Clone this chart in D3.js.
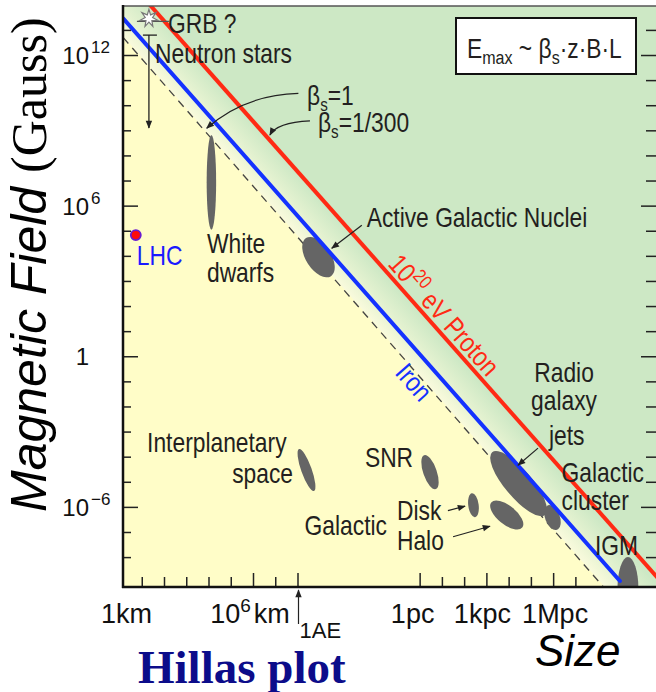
<!DOCTYPE html>
<html>
<head>
<meta charset="utf-8">
<script src="https://cdn.jsdelivr.net/npm/d3@7"></script>
<style>
  body { margin: 0; background: #fff; }
  svg { display: block; }
  .ann { font-family: "Liberation Sans Narrow", "Arial Narrow", "Liberation Sans", sans-serif; font-size: 27px; fill: #231f20; }
  .tick-lbl { font-family: "Liberation Sans", Arial, sans-serif; fill: #111; }
</style>
</head>
<body>
<svg id="chart" width="656" height="692"></svg>
<script>
// Hillas plot: magnetic field (gauss) against size (km) of candidate accelerators.

// Acceleration limits as straight lines in log-log space, [size km, field G]
const betaOneLine = [[1.45, 5.0e12], [5.6e21, 6.5e-10]];   // proton, beta_s = 1 (dashed)
const ironLine    = [[1.45, 2.9e13], [3.1e22, 1.12e-9]];   // iron, 1e20 eV
const protonLine  = [[10, 2.3e14], [1e25, 2.3e-10]];       // proton, 1e20 eV

// Source classes: major axis ends [size km, field G] and minor width in decades
const sourceNames  = ["White dwarfs", "Active Galactic Nuclei", "Interplanetary space", "SNR", "Disk", "Halo", "Radio galaxy jets", "Galactic cluster", "IGM"];
const sourceFrom   = [[1.35e4, 6.5e8], [2.4e8, 5.1e4], [1.17e8, 2.0e-4], [4.9e13, 1.15e-4], [6.9e15, 3.5e-6], [5.1e16, 1.5e-6], [5.6e16, 1.5e-4], [1.8e19, 1.15e-6], [7.1e22, 1.0e-8]];
const sourceTo     = [[1.35e4, 1.1e5], [3.2e9, 1.55e3], [5.5e8, 4.3e-6], [1.66e14, 5.1e-6], [9.5e15, 3.9e-7], [1.26e18, 1.5e-7], [1.32e19, 4.8e-7], [4.6e19, 1.23e-7], [7.1e22, 3.4e-11]];
const sourceWidth  = [0.4, 1.05, 0.44, 0.57, 0.44, 0.79, 1.15, 0.62, 0.88];

const lhcPoint = [5.4, 6.7e4];
const neutronStarRange = [21, 6.2e12, 1.23e9];   // size, upper field, lower field
const grbPoint = [21, 2.9e13];

// Axis ticks
const pc = 3.086e13;   // km
const xTicksKm = [1e1, 1e2, 1e3, 1e4, 1e5, 1e6, 1e7, 1e8];
const xTicksPc = [1, 10, 100, 1e3, 1e4, 1e5, 1e6, 1e7].map(k => k * pc);
const xLongTicks = [1e6, 1e8, pc, 1e3 * pc, 1e6 * pc];
const xLabels = [
  { v: 1, base: "1km" },
  { v: 1e6, base: "10", sup: "6", tail: "km" },
  { v: pc, base: "1pc" },
  { v: 1e3 * pc, base: "1kpc" },
  { v: 1e6 * pc, base: "1Mpc" }
];
const xLabelNudge = [7, -3, -7, -4, 2];
const yTicks = d3.range(-8, 14).map(k => Math.pow(10, k));
const yLabels = [
  { v: 1e12, base: "10", sup: "12" },
  { v: 1e6, base: "10", sup: "6" },
  { v: 1, base: "1" },
  { v: 1e-6, base: "10", sup: "\u22126" }
];

// Text annotations, positions as [log10 size, log10 field]
const labelTexts = [
  { t: "GRB ?", at: [2.18, 12.88] },
  { t: "Neutron stars", at: [1.60, 11.68] },
  { t: "Active Galactic Nuclei", at: [11.11, 5.15] },
  { t: "White", at: [3.93, 4.11] },
  { t: "dwarfs", at: [3.93, 2.96] },
  { t: "Interplanetary", at: [1.24, -3.82] },
  { t: "space", at: [7.80, -5.05], anchor: "end" },
  { t: "SNR", at: [11.03, -4.42] },
  { t: "Disk", at: [12.47, -6.52] },
  { t: "Galactic", at: [12.02, -7.12], anchor: "end" },
  { t: "Halo", at: [12.47, -7.72] },
  { t: "Radio", at: [19.98, -1.03], anchor: "middle" },
  { t: "galaxy", at: [19.98, -2.14], anchor: "middle" },
  { t: "jets", at: [20.1, -3.54], anchor: "middle" },
  { t: "Galactic", at: [19.87, -5.0] },
  { t: "cluster", at: [19.87, -6.13] },
  { t: "IGM", at: [21.37, -7.92] }
];
// Pointer arrows: [start, control (or null), end] in log10 coordinates
const pointerArrows = [
  [[8.04, 10.47], [5.57, 10.40], [3.92, 9.08]],
  [[8.56, 9.38], [7.06, 9.32], [6.76, 8.81]],
  [[10.89, 5.22], null, [9.54, 4.30]],
  [[18.81, -3.66], null, [17.91, -4.34]],
  [[14.76, -6.15], null, [15.53, -5.97]],
  [[14.99, -7.19], null, [16.65, -6.77]]
];

const svg = d3.select("#chart");
const frame = { left: 123, right: 658, top: 6, bottom: 587 };
const x = d3.scaleLog().domain([1, 1e24]).range([119.5, 653.5]);
const y = d3.scaleLog().domain([1e-9, 1e14]).range([582.2, 4.8]);
const P = d => [x(d[0]), y(d[1])];
const LP = d => [x(Math.pow(10, d[0])), y(Math.pow(10, d[1]))];
const pxPerDecade = ((x(10) - x(1)) + (y(1) - y(10))) / 2;
const NARROW = 0.845;

// condensed sans text anchored at (tx, ty), optionally rotated
function narrowText(tx, ty, anchor, rot) {
  const g = svg.append("g")
    .attr("transform", `translate(${tx},${ty})${rot ? ` rotate(${rot})` : ""} scale(${NARROW},1)`);
  return g.append("text").attr("class", "ann").attr("text-anchor", anchor || "start");
}

const defs = svg.append("defs");
defs.append("clipPath").attr("id", "plotClip").append("rect")
  .attr("x", frame.left).attr("y", frame.top)
  .attr("width", frame.right - frame.left).attr("height", frame.bottom - frame.top);
defs.append("marker").attr("id", "ah").attr("viewBox", "0 0 10 10")
  .attr("refX", 9).attr("refY", 5).attr("markerWidth", 9).attr("markerHeight", 8)
  .attr("markerUnits", "userSpaceOnUse").attr("orient", "auto")
  .append("path").attr("d", "M0,1 L10,5 L0,9 Z").attr("fill", "#222");

// background: yellow below the beta=1 line, fading to green beyond the proton line
const [a1, a2] = betaOneLine.map(P);
const [r1] = protonLine.map(P);
const ulen = Math.hypot(a2[0] - a1[0], a2[1] - a1[1]);
const u = [(a2[0] - a1[0]) / ulen, (a2[1] - a1[1]) / ulen];
const n = [u[1], -u[0]];
const dist = (r1[0] - a1[0]) * n[0] + (r1[1] - a1[1]) * n[1];
const grad = defs.append("linearGradient").attr("id", "bg").attr("gradientUnits", "userSpaceOnUse")
  .attr("x1", a1[0]).attr("y1", a1[1])
  .attr("x2", a1[0] + n[0] * dist).attr("y2", a1[1] + n[1] * dist);
[[0, "#fffdc8"], [0.04, "#f8fadc"], [0.5, "#e2f1cf"], [1, "#cde8c5"]].forEach(s =>
  grad.append("stop").attr("offset", s[0]).attr("stop-color", s[1]));

svg.append("rect").attr("x", frame.left).attr("y", frame.top)
  .attr("width", frame.right - frame.left).attr("height", frame.bottom - frame.top)
  .attr("fill", "url(#bg)");

const plot = svg.append("g").attr("clip-path", "url(#plotClip)");
const line = d3.line().x(d => x(d[0])).y(d => y(d[1]));

plot.append("path").attr("d", line(betaOneLine)).attr("fill", "none")
  .attr("stroke", "#444").attr("stroke-width", 1.3).attr("stroke-dasharray", "8,6");

// source ellipses
sourceNames.forEach((name, i) => {
  const [x1, y1] = P(sourceFrom[i]), [x2, y2] = P(sourceTo[i]);
  const cx = (x1 + x2) / 2, cy = (y1 + y2) / 2;
  const ang = Math.atan2(y2 - y1, x2 - x1) * 180 / Math.PI;
  plot.append("ellipse").attr("cx", cx).attr("cy", cy)
    .attr("rx", Math.hypot(x2 - x1, y2 - y1) / 2).attr("ry", sourceWidth[i] * pxPerDecade / 2)
    .attr("transform", `rotate(${ang},${cx},${cy})`)
    .attr("fill", "#656565");
});

plot.append("path").attr("d", line(ironLine)).attr("fill", "none")
  .attr("stroke", "#1432ff").attr("stroke-width", 4).attr("stroke-linecap", "round");
plot.append("path").attr("d", line(protonLine)).attr("fill", "none")
  .attr("stroke", "#ff2a14").attr("stroke-width", 4);

// axes: ticks pointing inward
const longY = new Set([1e12, 1e6, 1, 1e-6].map(v => Math.log10(v)));
const leftAxis = svg.append("g").attr("transform", `translate(${frame.left},0)`)
  .call(d3.axisLeft(y).tickValues(yTicks).tickSize(-8).tickFormat(""));
const rightAxis = svg.append("g").attr("transform", `translate(${frame.right},0)`)
  .call(d3.axisRight(y).tickValues(yTicks).tickSize(-12).tickFormat(""));
[leftAxis, rightAxis].forEach((g, k) => {
  g.select(".domain").remove();
  g.selectAll(".tick line").attr("stroke", "#222").attr("stroke-width", 1.5)
    .filter(d => longY.has(Math.round(Math.log10(d)))).attr("x2", k === 0 ? 15 : -17);
});
const longX = new Set(xLongTicks.map(v => Math.log10(v).toFixed(2)));
const bottomAxis = svg.append("g").attr("transform", `translate(0,${frame.bottom})`)
  .call(d3.axisBottom(x).tickValues(xTicksKm.concat(xTicksPc)).tickSize(-10).tickFormat(""));
bottomAxis.select(".domain").remove();
bottomAxis.selectAll(".tick line").attr("stroke", "#222").attr("stroke-width", 1.5)
  .filter(d => longX.has(Math.log10(d).toFixed(2))).attr("y2", -14);

// frame
svg.append("line").attr("x1", frame.left).attr("x2", frame.right).attr("y1", frame.top).attr("y2", frame.top)
  .attr("stroke", "#555").attr("stroke-width", 1.5);
svg.append("line").attr("x1", frame.left).attr("x2", frame.left).attr("y1", frame.top - 1).attr("y2", frame.bottom + 1)
  .attr("stroke", "#111").attr("stroke-width", 2.5);
svg.append("line").attr("x1", frame.left - 1).attr("x2", frame.right).attr("y1", frame.bottom).attr("y2", frame.bottom)
  .attr("stroke", "#111").attr("stroke-width", 2.5);

// y tick labels
yLabels.forEach(l => {
  const yy = y(l.v) + 9;
  svg.append("text").attr("class", "tick-lbl").attr("x", 89).attr("y", yy)
    .attr("text-anchor", "end").attr("font-size", 24).text(l.base);
  if (l.sup) svg.append("text").attr("class", "tick-lbl").attr("x", 91).attr("y", yy - 11)
    .attr("font-size", 17).text(l.sup);
});
// x tick labels
xLabels.forEach((l, i) => {
  const t = svg.append("text").attr("class", "tick-lbl").attr("x", x(l.v) + xLabelNudge[i]).attr("y", 623)
    .attr("text-anchor", "middle").attr("font-size", 27).text(l.base);
  if (l.sup) {
    t.append("tspan").attr("dy", -11).attr("font-size", 19).text(l.sup);
    t.append("tspan").attr("dy", 11).attr("dx", 3).text(l.tail);
  }
});
// 1 AU marker below the axis
svg.append("line").attr("x1", x(1e8) + 1).attr("x2", x(1e8) + 1).attr("y1", 624).attr("y2", 590)
  .attr("stroke", "#222").attr("stroke-width", 1.2).attr("marker-end", "url(#ah)");
svg.append("text").attr("class", "tick-lbl").attr("x", x(1e8) + 2).attr("y", 638)
  .attr("font-size", 22).text("1AE");

// axis titles
const yTitle = svg.append("text").attr("transform", "translate(46,512) rotate(-90)").attr("fill", "#000");
yTitle.append("tspan").attr("font-family", "'Liberation Sans', Arial, sans-serif").attr("font-style", "italic")
  .attr("font-size", 50).text("Magnetic Field ");
yTitle.append("tspan").attr("font-family", "'Liberation Serif', 'Times New Roman', serif")
  .attr("font-size", 50).text("(Gauss)");
svg.append("text").attr("x", 535).attr("y", 666).attr("font-family", "'Liberation Sans', Arial, sans-serif")
  .attr("font-style", "italic").attr("font-size", 44).attr("fill", "#000").text("Size");
svg.append("text").attr("x", 138).attr("y", 683).attr("font-family", "'Liberation Serif', 'Times New Roman', serif")
  .attr("font-weight", "bold").attr("font-size", 47).attr("fill", "#0c0c8a").text("Hillas plot");

// LHC
const [lx, ly] = P(lhcPoint);
svg.append("circle").attr("cx", lx).attr("cy", ly).attr("r", 5)
  .attr("fill", "#ff0a0a").attr("stroke", "#6a1ad0").attr("stroke-width", 1.8);
narrowText(lx + 1, ly + 30).style("fill", "#1a1aff").text("LHC");

// neutron stars: upper bound with arrow down
const nsx = x(neutronStarRange[0]);
svg.append("line").attr("x1", nsx - 6).attr("x2", nsx + 8).attr("y1", y(neutronStarRange[1])).attr("y2", y(neutronStarRange[1]))
  .attr("stroke", "#222").attr("stroke-width", 1.3);
svg.append("line").attr("x1", nsx).attr("x2", nsx).attr("y1", y(neutronStarRange[1])).attr("y2", y(neutronStarRange[2]))
  .attr("stroke", "#222").attr("stroke-width", 1.3).attr("marker-end", "url(#ah)");

// GRB star
const [gx, gy] = P(grbPoint);
svg.append("line").attr("x1", gx - 12).attr("x2", gx + 20).attr("y1", gy + 3).attr("y2", gy + 3)
  .attr("stroke", "#555").attr("stroke-width", 1.2);
const starPts = d3.range(14).map(i => {
  const r = i % 2 === 0 ? 9 : 3.8, a = -Math.PI / 2 + i * Math.PI / 7;
  return [gx + r * Math.cos(a), gy + r * Math.sin(a)];
});
svg.append("polygon").attr("points", starPts.map(p => p.join(",")).join(" "))
  .attr("fill", "#fff").attr("stroke", "#777").attr("stroke-width", 1.2);

// text labels
labelTexts.forEach(l => {
  const [tx, ty] = LP(l.at);
  narrowText(tx, ty, l.anchor).text(l.t);
});

// beta annotations
const b1 = LP([8.43, 10.01]);
const bt1 = narrowText(b1[0], b1[1]).text("\u03b2");
bt1.append("tspan").attr("dy", 6).attr("font-size", 18).text("s");
bt1.append("tspan").attr("dy", -6).text("=1");
const b2 = LP([8.92, 8.93]);
const bt2 = narrowText(b2[0], b2[1]).text("\u03b2");
bt2.append("tspan").attr("dy", 6).attr("font-size", 18).text("s");
bt2.append("tspan").attr("dy", -6).text("=1/300");

// pointer arrows
pointerArrows.forEach(a => {
  const p0 = LP(a[0]), p2 = LP(a[2]);
  const path = d3.path();
  path.moveTo(p0[0], p0[1]);
  if (a[1]) { const c = LP(a[1]); path.quadraticCurveTo(c[0], c[1], p2[0], p2[1]); }
  else path.lineTo(p2[0], p2[1]);
  svg.append("path").attr("d", path.toString()).attr("fill", "none")
    .attr("stroke", "#222").attr("stroke-width", 1.2).attr("marker-end", "url(#ah)");
});

// labels running along the limit lines
function alongLine(lineData, logSize, offset) {
  const l0 = Math.log10(lineData[0][0]), l1 = Math.log10(lineData[1][0]);
  const b0 = Math.log10(lineData[0][1]), b1v = Math.log10(lineData[1][1]);
  const t = (logSize - l0) / (l1 - l0);
  const p = LP([logSize, b0 + t * (b1v - b0)]);
  const q0 = P(lineData[0]), q1 = P(lineData[1]);
  const ang = Math.atan2(q1[1] - q0[1], q1[0] - q0[0]);
  const nx = Math.sin(ang), ny = -Math.cos(ang);
  return { x: p[0] + nx * offset, y: p[1] + ny * offset, deg: ang * 180 / Math.PI };
}
const pl = alongLine(protonLine, 14.1, 5);
const ptxt = narrowText(pl.x, pl.y, "middle", pl.deg).style("fill", "#ff2a14").text("10");
ptxt.append("tspan").attr("dy", -11).attr("font-size", 19).text("20");
ptxt.append("tspan").attr("dy", 11).text(" eV Proton");
const il = alongLine(ironLine, 14.0, -32);
narrowText(il.x, il.y, "middle", il.deg).style("fill", "#1432ff").text("Iron");

// formula box
svg.append("rect").attr("x", 456).attr("y", 18).attr("width", 180).attr("height", 56)
  .attr("fill", "#fff").attr("stroke", "#111").attr("stroke-width", 2);
const ft = narrowText(467, 58).attr("font-size", 27).text("E");
ft.append("tspan").attr("dy", 6).attr("font-size", 19).text("max");
ft.append("tspan").attr("dy", -6).text(" ~ \u03b2");
ft.append("tspan").attr("dy", 6).attr("font-size", 19).text("s");
ft.append("tspan").attr("dy", -6).text("\u00b7z\u00b7B\u00b7L");
</script>
</body>
</html>
